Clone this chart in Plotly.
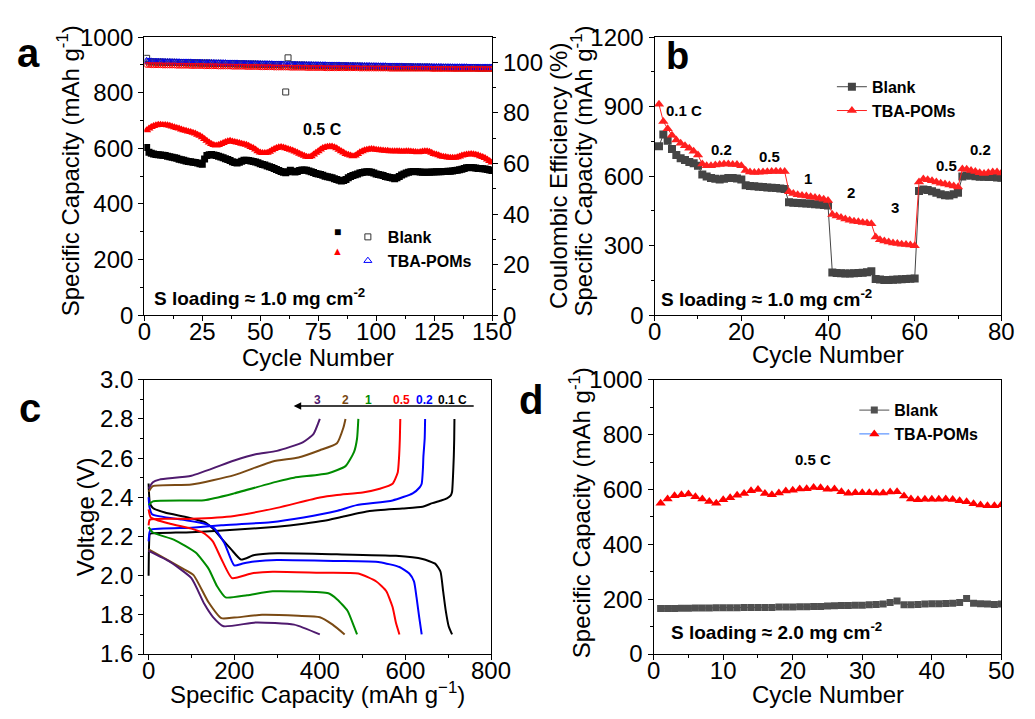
import plotly.graph_objects as go

W, H = 1035, 719
FONT = "Liberation Sans, Arial, sans-serif"

# ---------------- panel a: long cycling at 0.5 C ----------------
cycles_a = list(range(1, 151))
a_blank_cap = [
    603, 586, 582, 580, 578, 577, 576, 575, 574, 572,
    570, 568, 566, 564, 561, 559, 557, 555, 553, 552,
    550, 549, 547, 545, 543, 562, 574, 577, 578, 576,
    574, 572, 569, 566, 563, 560, 556, 552, 549, 547,
    550, 554, 557, 557, 556, 555, 553, 551, 548, 545,
    542, 540, 537, 534, 531, 528, 524, 520, 517, 514,
    512, 516, 521, 518, 515, 517, 520, 522, 522, 521,
    519, 516, 513, 510, 508, 506, 503, 500, 498, 496,
    494, 491, 488, 485, 483, 484, 488, 494, 499, 502,
    505, 508, 511, 513, 515, 516, 516, 514, 511, 508,
    506, 504, 502, 499, 497, 495, 493, 491, 494, 499,
    504, 508, 511, 514, 516, 517, 517, 516, 515, 514,
    514, 514, 514, 515, 515, 516, 516, 516, 517, 517,
    518, 518, 519, 520, 521, 523, 525, 528, 530, 531,
    531, 530, 529, 528, 528, 527, 526, 524, 522, 520,
]
a_tba_cap = [
    665, 671, 677, 680, 683, 685, 685, 684, 684, 683,
    681, 679, 676, 673, 671, 668, 665, 663, 661, 659,
    656, 653, 649, 645, 640, 634, 627, 621, 616, 612,
    610, 612, 616, 619, 623, 626, 627, 625, 623, 621,
    619, 617, 615, 613, 609, 605, 601, 596, 590, 585,
    583, 583, 584, 588, 593, 598, 601, 604, 605, 603,
    600, 598, 595, 592, 589, 585, 581, 577, 573, 570,
    569, 572, 578, 584, 590, 596, 601, 604, 606, 607,
    607, 604, 600, 595, 590, 585, 580, 577, 574, 572,
    574, 580, 586, 590, 593, 595, 597, 598, 597, 595,
    594, 593, 592, 591, 591, 590, 590, 590, 590, 590,
    589, 589, 590, 590, 589, 588, 587, 586, 587, 589,
    590, 590, 588, 584, 580, 578, 575, 572, 570, 569,
    567, 566, 566, 566, 568, 571, 574, 576, 578, 579,
    580, 579, 577, 575, 572, 569, 565, 560, 555, 549,
]
a_blank_ce = [
    101.6, 100.2, 100.2, 100.2, 100.1, 100.1, 100.1, 100.1, 100.0, 100.0,
    100.0, 100.0, 100.0, 99.9, 99.9, 99.9, 99.9, 99.9, 99.8, 99.8,
    99.8, 99.8, 99.8, 99.7, 99.7, 99.7, 99.7, 99.7, 99.6, 99.6,
    99.6, 99.6, 99.6, 99.5, 99.5, 99.5, 99.5, 99.5, 99.4, 99.4,
    99.4, 99.4, 99.4, 99.3, 99.3, 99.3, 99.3, 99.3, 99.2, 99.2,
    99.2, 99.2, 99.2, 99.1, 99.1, 99.1, 99.1, 99.1, 99.0, 99.0,
    88.3, 101.8, 99.0, 99.0, 98.9, 98.9, 98.9, 98.9, 98.9, 98.8,
    98.8, 98.8, 98.8, 98.8, 98.8, 98.7, 98.7, 98.7, 98.7, 98.7,
    98.7, 98.6, 98.6, 98.6, 98.6, 98.6, 98.6, 98.5, 98.5, 98.5,
    98.5, 98.5, 98.5, 98.4, 98.4, 98.4, 98.4, 98.4, 98.4, 98.4,
    98.3, 98.3, 98.3, 98.3, 98.3, 98.3, 98.3, 98.2, 98.2, 98.2,
    98.2, 98.2, 98.2, 98.2, 98.2, 98.1, 98.1, 98.1, 98.1, 98.1,
    98.1, 98.1, 98.1, 98.0, 98.0, 98.0, 98.0, 98.0, 98.0, 98.0,
    98.0, 98.0, 97.9, 97.9, 97.9, 97.9, 97.9, 97.9, 97.9, 97.9,
    97.9, 97.9, 97.9, 97.8, 97.8, 97.8, 97.8, 97.8, 97.8, 97.8,
]
a_tba_ce = [
    100.6, 100.4, 100.4, 100.3, 100.3, 100.3, 100.3, 100.2, 100.2, 100.2,
    100.2, 100.1, 100.1, 100.1, 100.1, 100.0, 100.0, 100.0, 100.0, 100.0,
    99.9, 99.9, 99.9, 99.9, 99.9, 99.8, 99.8, 99.8, 99.8, 99.8,
    99.7, 99.7, 99.7, 99.7, 99.7, 99.6, 99.6, 99.6, 99.6, 99.6,
    99.5, 99.5, 99.5, 99.5, 99.5, 99.4, 99.4, 99.4, 99.4, 99.4,
    99.3, 99.3, 99.3, 99.3, 99.3, 99.2, 99.2, 99.2, 99.2, 99.2,
    99.1, 99.1, 99.1, 99.1, 99.1, 99.1, 99.0, 99.0, 99.0, 99.0,
    99.0, 99.0, 98.9, 98.9, 98.9, 98.9, 98.9, 98.9, 98.8, 98.8,
    98.8, 98.8, 98.8, 98.8, 98.7, 98.7, 98.7, 98.7, 98.7, 98.7,
    98.6, 98.6, 98.6, 98.6, 98.6, 98.6, 98.6, 98.5, 98.5, 98.5,
    98.5, 98.5, 98.5, 98.5, 98.4, 98.4, 98.4, 98.4, 98.4, 98.4,
    98.4, 98.3, 98.3, 98.3, 98.3, 98.3, 98.3, 98.3, 98.3, 98.2,
    98.2, 98.2, 98.2, 98.2, 98.2, 98.2, 98.2, 98.2, 98.1, 98.1,
    98.1, 98.1, 98.1, 98.1, 98.1, 98.1, 98.1, 98.1, 98.1, 98.0,
    98.0, 98.0, 98.0, 98.0, 98.0, 98.0, 98.0, 98.0, 98.0, 98.0,
]
a_tba_ce2 = [
    99.0, 99.0, 98.9, 98.9, 98.9, 98.9, 98.9, 98.8, 98.8, 98.8,
    98.8, 98.8, 98.8, 98.7, 98.7, 98.7, 98.7, 98.7, 98.7, 98.6,
    98.6, 98.6, 98.6, 98.6, 98.6, 98.5, 98.5, 98.5, 98.5, 98.5,
    98.5, 98.4, 98.4, 98.4, 98.4, 98.4, 98.4, 98.3, 98.3, 98.3,
    98.3, 98.3, 98.3, 98.2, 98.2, 98.2, 98.2, 98.2, 98.2, 98.1,
    98.1, 98.1, 98.1, 98.1, 98.1, 98.0, 98.0, 98.0, 98.0, 98.0,
    98.0, 98.0, 97.9, 97.9, 97.9, 97.9, 97.9, 97.9, 97.9, 97.8,
    97.8, 97.8, 97.8, 97.8, 97.8, 97.8, 97.8, 97.7, 97.7, 97.7,
    97.7, 97.7, 97.7, 97.7, 97.7, 97.7, 97.7, 97.7, 97.7, 97.7,
    97.7, 97.7, 97.6, 97.6, 97.6, 97.6, 97.6, 97.6, 97.6, 97.6,
    97.6, 97.6, 97.6, 97.6, 97.6, 97.5, 97.5, 97.5, 97.5, 97.5,
    97.5, 97.5, 97.5, 97.5, 97.5, 97.5, 97.5, 97.5, 97.5, 97.5,
    97.5, 97.5, 97.5, 97.4, 97.4, 97.4, 97.4, 97.4, 97.4, 97.4,
    97.4, 97.4, 97.4, 97.4, 97.4, 97.4, 97.4, 97.4, 97.4, 97.4,
    97.4, 97.4, 97.4, 97.4, 97.4, 97.4, 97.4, 97.4, 97.4, 97.4,
]

# ---------------- panel b: rate capability ----------------
cycles_b = list(range(1, 81))
b_blank_cap = [
    729, 780, 753, 717, 691, 677, 670, 661, 656, 645,
    607, 599, 592, 589, 586, 589, 592, 592, 590, 586,
    561, 558, 556, 554, 553, 551, 550, 549, 547, 545,
    487, 485, 484, 483, 482, 481, 479, 478, 476, 474,
    184, 182, 181, 180, 180, 181, 182, 183, 185, 190,
    156, 154, 152, 152, 153, 154, 155, 156, 157, 158,
    536, 543, 540, 535, 528, 522, 518, 517, 522, 528,
    599, 603, 603, 600, 598, 597, 596, 596, 594, 593,
]
b_tba_cap = [
    910, 836, 805, 777, 756, 742, 731, 720, 707, 691,
    652, 645, 645, 648, 650, 652, 652, 650, 650, 645,
    624, 618, 616, 617, 618, 619, 620, 621, 620, 620,
    533, 525, 520, 517, 514, 511, 508, 505, 500, 495,
    435, 428, 422, 415, 410, 406, 403, 400, 398, 395,
    338, 326, 320, 316, 312, 309, 306, 305, 303, 300,
    575, 588, 585, 580, 575, 570, 566, 562, 558, 553,
    631, 630, 625, 620, 615, 612, 615, 618, 618, 614,
]
b_rate_labels = ["0.1 C", "0.2", "0.5", "1", "2", "3", "0.5", "0.2"]
b_rate_x = [6.7, 15.5, 26.4, 35.4, 45.2, 55.4, 67.4, 75.1]
b_rate_y = [882, 717, 686, 589, 529, 466, 647, 717]

# ---------------- panel c: charge/discharge profiles ----------------
c_rates = ["0.1 C", "0.2", "0.5", "1", "2", "3"]
c_colors = ["#000000", "#0000FF", "#FF0000", "#008C00", "#7A4A14", "#4F1A6E"]
c_label_x = [709, 645, 590, 513, 459, 395]

dis_01_q = [0, 1, 3, 10, 38, 92, 131, 150, 170, 193, 216, 247, 300, 440, 578, 640, 670, 682, 688, 694, 701, 709]
dis_01_v = [2.47, 2.42, 2.37, 2.345, 2.322, 2.297, 2.273, 2.24, 2.19, 2.134, 2.082, 2.105, 2.114, 2.109, 2.101, 2.085, 2.06, 2.02, 1.922, 1.824, 1.742, 1.70]
chg_01_q = [0, 1, 3, 8, 100, 208, 300, 362, 410, 455, 516, 593, 640, 663, 685, 697, 706, 709, 711, 713, 714, 714.5]
chg_01_v = [2.0, 2.15, 2.213, 2.216, 2.222, 2.235, 2.25, 2.265, 2.28, 2.302, 2.33, 2.343, 2.352, 2.37, 2.385, 2.395, 2.41, 2.428, 2.5, 2.608, 2.7, 2.8]

dis_02_q = [0, 2, 8, 77, 131, 154, 177, 200, 220, 247, 300, 439, 540, 586, 609, 620, 626, 632, 638]
dis_02_v = [2.40, 2.35, 2.314, 2.286, 2.265, 2.24, 2.167, 2.052, 2.062, 2.072, 2.08, 2.075, 2.069, 2.044, 2.011, 1.971, 1.889, 1.791, 1.70]
chg_02_q = [0, 2, 5, 100, 170, 285, 362, 439, 486, 570, 617, 633, 638, 641, 642, 645, 646]
chg_02_v = [2.175, 2.22, 2.235, 2.245, 2.257, 2.273, 2.297, 2.33, 2.36, 2.384, 2.42, 2.45, 2.469, 2.55, 2.608, 2.7, 2.8]

dis_05_q = [0, 5, 50, 100, 130, 150, 170, 195, 240, 290, 400, 490, 532, 555, 570, 578, 586]
dis_05_v = [2.338, 2.297, 2.265, 2.24, 2.216, 2.175, 2.085, 1.987, 2.011, 2.02, 2.015, 2.011, 1.97, 1.922, 1.84, 1.758, 1.70]
chg_05_q = [0, 3, 100, 200, 300, 400, 440, 500, 540, 570, 582, 585, 587, 588]
chg_05_v = [2.257, 2.286, 2.29, 2.305, 2.346, 2.399, 2.412, 2.425, 2.444, 2.469, 2.526, 2.6, 2.7, 2.8]

dis_1_q = [0, 10, 60, 110, 140, 160, 180, 230, 290, 420, 440, 465, 480, 487]
dis_1_v = [2.248, 2.22, 2.183, 2.118, 2.036, 1.946, 1.889, 1.90, 1.92, 1.91, 1.88, 1.82, 1.74, 1.70]
chg_1_q = [0, 10, 130, 200, 300, 340, 420, 460, 480, 487, 490]
chg_1_v = [2.36, 2.379, 2.385, 2.42, 2.48, 2.50, 2.523, 2.559, 2.632, 2.7, 2.8]

dis_2_q = [0, 20, 80, 105, 140, 170, 200, 265, 350, 400, 430, 458]
dis_2_v = [2.134, 2.11, 2.036, 2.003, 1.864, 1.783, 1.786, 1.80, 1.795, 1.788, 1.75, 1.70]
chg_2_q = [0, 10, 100, 200, 290, 350, 400, 440, 455, 460]
chg_2_v = [2.428, 2.457, 2.465, 2.513, 2.583, 2.603, 2.64, 2.676, 2.755, 2.8]

dis_3_q = [0, 50, 100, 130, 150, 175, 250, 340, 400]
dis_3_v = [2.126, 2.07, 1.987, 1.856, 1.79, 1.742, 1.761, 1.75, 1.70]
chg_3_q = [0, 10, 25, 100, 200, 250, 300, 360, 385, 400]
chg_3_v = [2.444, 2.477, 2.49, 2.51, 2.588, 2.62, 2.637, 2.68, 2.722, 2.8]

c_curves = [
    (dis_01_q, dis_01_v, chg_01_q, chg_01_v),
    (dis_02_q, dis_02_v, chg_02_q, chg_02_v),
    (dis_05_q, dis_05_v, chg_05_q, chg_05_v),
    (dis_1_q, dis_1_v, chg_1_q, chg_1_v),
    (dis_2_q, dis_2_v, chg_2_q, chg_2_v),
    (dis_3_q, dis_3_v, chg_3_q, chg_3_v),
]

# ---------------- panel d: higher sulfur loading ----------------
cycles_d = list(range(1, 51))
d_blank_cap = [
    166, 166, 166, 167, 167, 168, 168, 168, 169, 169,
    169, 169, 170, 170, 170, 170, 170, 171, 171, 171,
    172, 172, 173, 173, 175, 176, 177, 177, 178, 178,
    180, 181, 182, 188, 193, 180, 180, 181, 182, 183,
    183, 184, 185, 188, 202, 185, 183, 182, 181, 182,
]
d_tba_cap = [
    550, 565, 577, 581, 583, 573, 565, 556, 550, 562,
    570, 579, 585, 595, 600, 585, 581, 587, 594, 597,
    602, 603, 607, 606, 601, 602, 592, 586, 588, 588,
    588, 587, 587, 591, 592, 576, 565, 562, 564, 564,
    564, 565, 563, 559, 555, 548, 543, 541, 541, 544,
]


def px(x):
    return x / W


def py(y):
    return 1 - y / H


def axis(rng, dtick, minor_dtick, domain, anchor, **kw):
    d = dict(
        range=rng, dtick=dtick, tick0=0, domain=domain, anchor=anchor,
        showline=True, linecolor="black", linewidth=1.3, mirror=True,
        ticks="outside", ticklen=5, tickwidth=1.2, tickcolor="black",
        showgrid=False, zeroline=False,
        tickfont=dict(family=FONT, size=24, color="black"),
        minor=dict(dtick=minor_dtick, ticks="outside", ticklen=3, tickwidth=1,
                   tickcolor="black", showgrid=False),
    )
    d.update(kw)
    return d


def xaxis(*args, **kw):
    # bottom tick labels sit close under the axis line
    return axis(*args, ticklabelstandoff=-10, **kw)


fig = go.Figure()

# panel a
fig.add_trace(go.Scatter(x=cycles_a, y=a_blank_cap, mode="markers", showlegend=False,
                         marker=dict(symbol="square", size=7, color="black"),
                         xaxis="x", yaxis="y"))
fig.add_trace(go.Scatter(x=cycles_a, y=a_tba_cap, mode="markers", showlegend=False,
                         marker=dict(symbol="triangle-up", size=8, color="#FF0000"),
                         xaxis="x", yaxis="y"))
fig.add_trace(go.Scatter(x=cycles_a, y=a_blank_ce, mode="markers", name="Blank",
                         marker=dict(symbol="square-open", size=6, color="#333333",
                                     line=dict(width=1)),
                         xaxis="x", yaxis="y5", legend="legend3"))
fig.add_trace(go.Scatter(x=cycles_a, y=a_tba_ce, mode="markers", name="TBA-POMs",
                         marker=dict(symbol="triangle-up-open", size=7, color="#0000FF",
                                     line=dict(width=1)),
                         xaxis="x", yaxis="y5", legend="legend3"))
fig.add_trace(go.Scatter(x=cycles_a, y=a_tba_ce2, mode="markers", showlegend=False,
                         marker=dict(symbol="circle-open", size=5, color="#FF0000",
                                     line=dict(width=1)),
                         xaxis="x", yaxis="y5"))

# panel b
fig.add_trace(go.Scatter(x=cycles_b, y=b_blank_cap, mode="lines+markers", name="Blank",
                         line=dict(color="#444444", width=1),
                         marker=dict(symbol="square", size=8, color="#444444"),
                         xaxis="x2", yaxis="y2", legend="legend"))
fig.add_trace(go.Scatter(x=cycles_b, y=b_tba_cap, mode="lines+markers", name="TBA-POMs",
                         line=dict(color="#FF2020", width=1),
                         marker=dict(symbol="triangle-up", size=9, color="#FF2020"),
                         xaxis="x2", yaxis="y2", legend="legend"))

# panel c
for (dq, dv, cq, cv), col in zip(c_curves, c_colors):
    for q, v in ((dq, dv), (cq, cv)):
        fig.add_trace(go.Scatter(x=q, y=v, mode="lines", showlegend=False,
                                 line=dict(color=col, width=2, shape="spline", smoothing=0.5),
                                 xaxis="x3", yaxis="y3"))

# panel d
fig.add_trace(go.Scatter(x=cycles_d, y=d_blank_cap, mode="lines+markers", name="Blank",
                         line=dict(color="#505050", width=1),
                         marker=dict(symbol="square", size=7, color="#505050"),
                         xaxis="x4", yaxis="y4", legend="legend2"))
fig.add_trace(go.Scatter(x=cycles_d, y=d_tba_cap, mode="markers", showlegend=False,
                         marker=dict(symbol="triangle-up", size=9, color="#FF0000"),
                         xaxis="x4", yaxis="y4"))
fig.add_trace(go.Scatter(x=[None], y=[None], mode="lines+markers", name="TBA-POMs",
                         line=dict(color="#3A7DFF", width=1),
                         marker=dict(symbol="triangle-up", size=9, color="#FF0000"),
                         xaxis="x4", yaxis="y4", legend="legend2"))

A_X, A_Y = [px(141), px(498)], [py(313), py(24)]
B_X, B_Y = [px(665), px(1021)], [py(313), py(24)]
C_X, C_Y = [px(141), px(497)], [py(665), py(380)]
D_X, D_Y = [px(664), px(1021)], [py(665), py(380)]

cap_title = "Specific Capacity (mAh g<sup>-1</sup>)"

legend_common = dict(bgcolor="rgba(0,0,0,0)", borderwidth=0, xanchor="left", yanchor="top",
                     font=dict(family=FONT, size=16, color="black", weight="bold"),
                     tracegroupgap=0)

annotations = []


def label(text, x, y, xref, yref, size, color="black", xanchor="center", bold=True, angle=0):
    annotations.append(dict(text=text, x=x, y=y, xref=xref, yref=yref, showarrow=False,
                            xanchor=xanchor, yanchor="middle", textangle=angle,
                            font=dict(family=FONT, size=size, color=color,
                                      weight="bold" if bold else "normal")))


# axis titles
label(cap_title, px(63), py(163), "paper", "paper", 24, bold=False, angle=-90)
label("Coulombic Efficiency (%)", px(566), py(168), "paper", "paper", 24, bold=False, angle=-90)
label(cap_title, px(590), py(163), "paper", "paper", 24, bold=False, angle=-90)
label("Voltage (V)", px(81), py(522), "paper", "paper", 24, bold=False, angle=-90)
label(cap_title, px(588), py(518), "paper", "paper", 24, bold=False, angle=-90)
label("Cycle Number", px(319), py(357), "paper", "paper", 24, bold=False)
label("Cycle Number", px(843), py(354), "paper", "paper", 24, bold=False)
label("Specific Capacity (mAh g<sup>\u22121</sup>)", px(319), py(705), "paper", "paper", 24, bold=False)
label("Cycle Number", px(843), py(707), "paper", "paper", 24, bold=False)

# panel letters
label("a", px(22), py(41), "paper", "paper", 40)
label("b", px(688), py(44), "paper", "paper", 38)
label("c", px(24), py(409), "paper", "paper", 40)
label("d", px(538), py(401), "paper", "paper", 40)

# panel a notes and filled-symbol keys
label("0.5 C", 77, 667, "x", "y", 16)
label("S loading \u2248 1.0 mg cm<sup>-2</sup>", 3.5, 66, "x", "y", 19, xanchor="left")
label("\u25A0", px(339), py(226), "paper", "paper", 12, color="black", bold=False)
label("\u25B2", px(339), py(246), "paper", "paper", 11, color="#FF0000", bold=False)

# panel b notes
for t, x, y in zip(b_rate_labels, b_rate_x, b_rate_y):
    label(t, x, y, "x2", "y2", 15)
label("S loading \u2248 1.0 mg cm<sup>-2</sup>", 1.1, 73, "x2", "y2", 19, xanchor="left")

# panel c rate arrow and labels
annotations.append(dict(x=339, y=2.866, ax=763, ay=2.866, xref="x3", yref="y3",
                        axref="x3", ayref="y3", showarrow=True, arrowhead=2,
                        arrowsize=1, arrowwidth=1.5, arrowcolor="black", text=""))
for t, x, col in zip(c_rates, c_label_x, c_colors):
    label(t, x, 2.899, "x3", "y3", 12, color=col)

# panel d notes
label("0.5 C", 22.9, 709, "x4", "y4", 15)
label("S loading \u2248 2.0 mg cm<sup>-2</sup>", 2.2, 85, "x4", "y4", 19, xanchor="left")

fig.update_layout(
    width=W, height=H, margin=dict(l=0, r=0, t=0, b=0),
    paper_bgcolor="white", plot_bgcolor="rgba(0,0,0,0)",
    font=dict(family=FONT, color="black"),
    xaxis=xaxis([0, 150], 25, 12.5, A_X, "y"),
    yaxis=axis([0, 1000], 200, 100, A_Y, "x"),
    yaxis5=axis([0, 110], 20, 10, A_Y, "x", overlaying="y", side="right", mirror=False),
    xaxis2=xaxis([0, 80], 20, 10, B_X, "y2"),
    yaxis2=axis([0, 1200], 300, 150, B_Y, "x2"),
    xaxis3=xaxis([-10, 800], 200, 100, C_X, "y3"),
    yaxis3=axis([1.6, 3.0], 0.2, 0.1, C_Y, "x3", tickformat=".1f", tick0=1.6),
    xaxis4=xaxis([0, 50], 10, 5, D_X, "y4"),
    yaxis4=axis([0, 1000], 200, 100, D_Y, "x4"),
    legend=dict(x=px(847), y=py(58), **legend_common),
    legend2=dict(x=px(870), y=py(394), **legend_common),
    legend3=dict(x=px(350), y=py(214), **legend_common),
    annotations=annotations,
)

fig.write_html("out.html")
